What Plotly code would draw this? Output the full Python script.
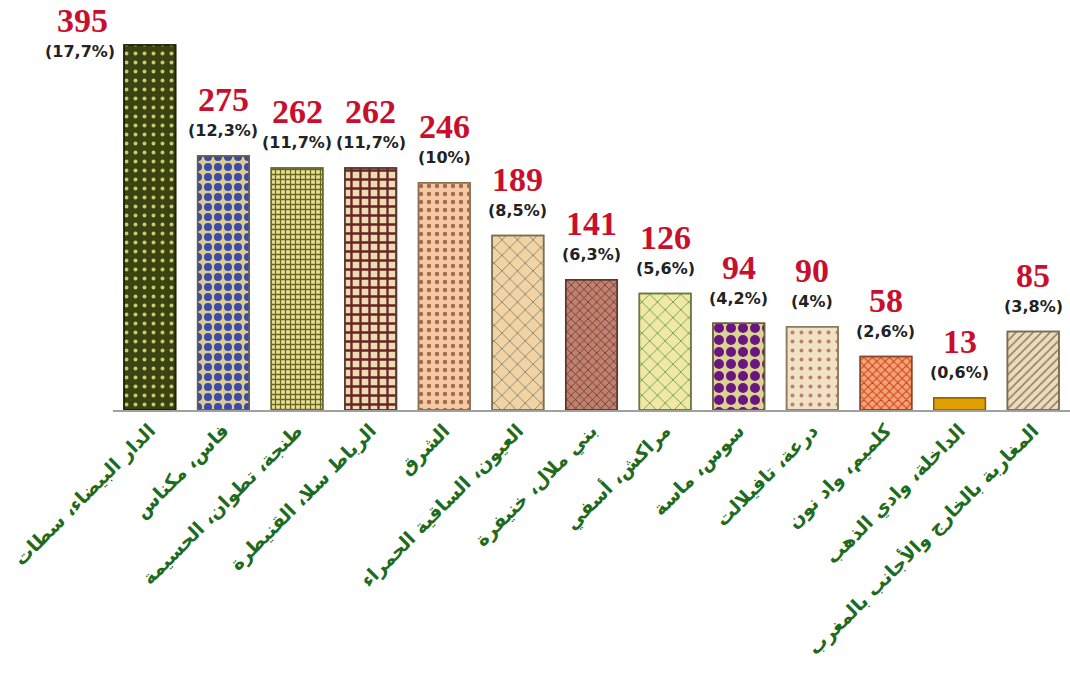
import plotly.graph_objects as go

categories = [
    "الدار البيضاء، سطات",
    "فاس، مكناس",
    "طنجة، تطوان، الحسيمة",
    "الرباط سلا، القنيطرة",
    "الشرق",
    "العيون، الساقية الحمراء",
    "بني ملال، خنيفرة",
    "مراكش، أسفي",
    "سوس، ماسة",
    "درعة، تافيلالت",
    "كلميم، واد نون",
    "الداخلة، وادي الذهب",
    "المغاربة بالخارج والأجانب بالمغرب",
]
values = [395, 275, 262, 262, 246, 189, 141, 126, 94, 90, 58, 13, 85]
percents = ["(17,7%)", "(12,3%)", "(11,7%)", "(11,7%)", "(10%)", "(8,5%)", "(6,3%)",
            "(5,6%)", "(4,2%)", "(4%)", "(2,6%)", "(0,6%)", "(3,8%)"]

bg_colors = ["#3a4410", "#dccb92", "#e8e0a0", "#ecdcb4", "#f4caa4", "#f2d4a4", "#c4806e",
             "#f0e8a4", "#dcd294", "#f2e2c4", "#f4a474", "#e0a000", "#ecdcbc"]
fg_colors = ["#c8c870", "#3a4aa8", "#6a6818", "#6a2424", "#a86a4a", "#5a6c64", "#5a382c",
             "#3e8a32", "#6a1680", "#b88070", "#cc3e1c", "#e0a000", "#8a7a5e"]
line_colors = ["#1e2408", "#6a6040", "#6a6a30", "#5a3a30", "#8a7050", "#7a7050", "#5a3a2e",
               "#6a7a40", "#6a6040", "#8a7a60", "#8a4a2a", "#8a6000", "#7a6a50"]
shapes = [".", ".", "+", "+", ".", "x", "x", "x", ".", ".", "x", "", "/"]
sizes = [9, 10, 5, 9, 8, 11, 6, 11, 12, 9, 6, 8, 6]
solidity = [0.15, 0.5, 0.45, 0.45, 0.25, 0.12, 0.25, 0.12, 0.55, 0.15, 0.3, 0.3, 0.25]

fig = go.Figure()
# solid background colour of each bar
fig.add_trace(go.Bar(
    x=categories, y=values,
    marker=dict(color=bg_colors, line=dict(color=line_colors, width=1.5)),
    hoverinfo="skip",
))
# pattern layer on top
fig.add_trace(go.Bar(
    x=categories, y=values,
    marker=dict(
        color=fg_colors,
        line=dict(color=line_colors, width=1.5),
        pattern=dict(shape=shapes, size=sizes, solidity=solidity, fillmode="replace"),
    ),
    hoverinfo="skip",
))

for i, (c, v, p) in enumerate(zip(categories, values, percents)):
    if i == 0:
        fig.add_annotation(x=c, y=v, text="<b>" + str(v) + "</b>", showarrow=False,
                           yshift=25, xshift=-67,
                           font=dict(family="Liberation Serif", size=34, color="#c8102e"))
        fig.add_annotation(x=c, y=v, text="<b>" + p + "</b>", showarrow=False, yshift=-6,
                           xshift=-70,
                           font=dict(family="DejaVu Sans", size=16, color="#222222"))
    else:
        fig.add_annotation(x=c, y=v, text="<b>" + str(v) + "</b>", showarrow=False, yshift=56,
                           font=dict(family="Liberation Serif", size=34, color="#c8102e"))
        fig.add_annotation(x=c, y=v, text="<b>" + p + "</b>", showarrow=False, yshift=25,
                           font=dict(family="DejaVu Sans", size=16, color="#222222"))

fig.update_layout(
    width=1070, height=682,
    margin=dict(l=113, r=0, t=22, b=272),
    paper_bgcolor="white", plot_bgcolor="white",
    barmode="overlay",
    bargap=0.3,
    showlegend=False,
    xaxis=dict(showline=True, linecolor="#a0a0a0", linewidth=2, ticks="",
               tickangle=-45, automargin=False, range=[-0.5, 12.5],
               tickmode="array", tickvals=categories,
               ticktext=["<b>" + c + "</b>" for c in categories],
               tickfont=dict(family="DejaVu Sans", size=19, color="#1e6b1e")),
    yaxis=dict(range=[0, 420], visible=False, showgrid=False, automargin=False),
)

fig.write_html("out.html")
